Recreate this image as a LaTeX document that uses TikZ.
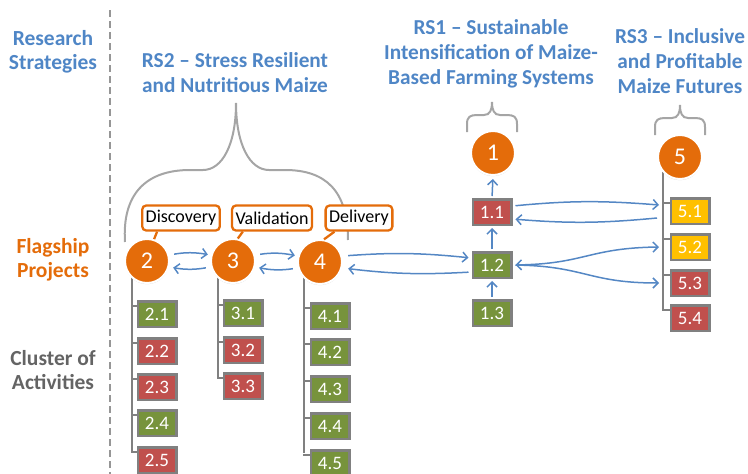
\documentclass[tikz,border=0pt]{standalone}
\usepackage{fontspec}
\setmainfont{Carlito}
\usetikzlibrary{arrows.meta,shadows}
\definecolor{rsblue}{RGB}{79,134,198}
\definecolor{arblue}{RGB}{84,135,196}
\definecolor{fporange}{RGB}{228,108,10}
\definecolor{cagray}{RGB}{100,100,100}
\definecolor{boxred}{RGB}{192,80,77}
\definecolor{boxgreen}{RGB}{119,147,60}
\definecolor{boxyellow}{RGB}{255,192,0}
\definecolor{stemgray}{RGB}{128,128,128}
\definecolor{bracegray}{RGB}{165,165,165}
\definecolor{divgray}{RGB}{150,150,150}
\begin{document}
\begin{tikzpicture}[x=1pt,y=-1pt,
  title/.style={text=rsblue, font=\fontsize{21.3}{25}\selectfont\bfseries, align=center},
  side/.style={font=\fontsize{21.5}{24.5}\selectfont\bfseries, align=center},
  cabox/.style={draw=stemgray, line width=2.5pt, minimum width=38.5pt, minimum height=25.5pt, inner sep=0pt, text=white, font=\fontsize{19}{19}\selectfont},
  gbox/.style={cabox, fill=boxgreen},
  rbox/.style={cabox, fill=boxred},
  ybox/.style={cabox, fill=boxyellow},
  fpcircle/.style={circle, fill=fporange, draw=white, line width=2pt, minimum size=44pt, inner sep=0pt, text=white, font=\fontsize{24}{24}\selectfont, drop shadow={shadow xshift=0pt, shadow yshift=-1.2pt, opacity=0.3}},
  phase/.style={draw=fporange, line width=2.3pt, rounded corners=4pt, fill=white, text=black, font=\fontsize{18}{18}\selectfont, minimum height=25pt, inner xsep=3.5pt, inner ysep=2pt},
  tail/.style={draw=fporange, line width=2.3pt},
  stem/.style={draw=stemgray, line width=2.8pt},
  tick/.style={draw=stemgray, line width=1.6pt},
  brace/.style={draw=bracegray, line width=2pt},
  barrow/.style={draw=arblue, line width=1.5pt, -{Straight Barb[length=5pt,width=10pt]}},
  divider/.style={draw=divgray, line width=1.2pt, dash pattern=on 7pt off 4pt}
]
\useasboundingbox (0,0) rectangle (748,474);

% divider
\draw[divider] (110,10) -- (110,474);

% side labels
\node[side, text=rsblue] (lrs) at (53,52) {Research\\Strategies};
\node[side, text=fporange] (lfp) at (53,260) {Flagship\\Projects};
\node[side, text=cagray] (lca) at (53,370) {Cluster of\\Activities};

% titles
\node[title] (t2) at (235,73) {RS2 – Stress Resilient\\and Nutritious Maize};
\node[title] (t1) at (491,54) {RS1 – Sustainable\\Intensification of Maize-\\Based Farming Systems};
\node[title] (t3) at (680,61) {RS3 – Inclusive\\and Profitable\\Maize Futures};

% braces
\draw[brace] (125,242) .. controls (122,195) and (145,170) .. (190,170) -- (203,170)
  .. controls (222,170) and (236,145) .. (236,103)
  .. controls (236,145) and (250,170) .. (269,170) -- (285,170)
  .. controls (325,170) and (348,190) .. (348,240);
\draw[brace] (467,132) -- (467,124) .. controls (467,117) and (470,115) .. (477,115) -- (484,115)
  .. controls (490,115) and (492,110) .. (492,102)
  .. controls (492,110) and (494,115) .. (500,115) -- (507,115)
  .. controls (514,115) and (517,117) .. (517,124) -- (517,132);
\begin{scope}[shift={(188,3)}]
\draw[brace] (467,132) -- (467,124) .. controls (467,117) and (470,115) .. (477,115) -- (484,115)
  .. controls (490,115) and (492,110) .. (492,102)
  .. controls (492,110) and (494,115) .. (500,115) -- (507,115)
  .. controls (514,115) and (517,117) .. (517,124) -- (517,132);
\end{scope}

% stems
\draw[stem] (132,268) -- (132,452);
\draw[stem] (218,268) -- (218,378);
\draw[stem] (304,270) -- (304,453);
\draw[stem] (663,172) -- (663,311);

% cluster boxes
\node[gbox] (b21) at (157,314) {2.1};
\node[rbox] (b22) at (157,351) {2.2};
\node[rbox] (b23) at (157,387) {2.3};
\node[gbox] (b24) at (157,423) {2.4};
\node[rbox] (b25) at (157,460) {2.5};
\node[gbox] (b31) at (243,313) {3.1};
\node[rbox] (b32) at (243,350) {3.2};
\node[rbox] (b33) at (243,386) {3.3};
\node[gbox] (b41) at (330,316) {4.1};
\node[gbox] (b42) at (330,352) {4.2};
\node[gbox] (b43) at (330,389) {4.3};
\node[gbox] (b44) at (330,426) {4.4};
\node[gbox] (b45) at (330,463) {4.5};
\node[rbox] (b11) at (492,212) {1.1};
\node[gbox] (b12) at (492,265) {1.2};
\node[gbox] (b13) at (492,313) {1.3};
\node[ybox] (b51) at (690,211) {5.1};
\node[ybox] (b52) at (690,247) {5.2};
\node[rbox] (b53) at (690,283) {5.3};
\node[rbox] (b54) at (690,318) {5.4};

% ticks
\foreach \b in {b21,b22,b23,b24,b25}{\draw[tick] ([yshift=8pt]\b.west) -- ++(-6,0);}
\foreach \b in {b31,b32,b33}{\draw[tick] ([yshift=8pt]\b.west) -- ++(-6,0);}
\foreach \b in {b41,b42,b43,b44,b45}{\draw[tick] ([yshift=8pt]\b.west) -- ++(-7,0);}
\foreach \b in {b51,b52,b53,b54}{\draw[tick] ([yshift=8pt]\b.west) -- ++(-8,0);}

% phase labels
\node[phase] (disc) at (181,218) {Discovery};
\node[phase] (vali) at (272,218) {Validation};
\node[phase] (deli) at (359,218) {Delivery};

% circles
\node[fpcircle] (c2) at (147,261) {2};
\node[fpcircle] (c3) at (233,261) {3};
\node[fpcircle] (c4) at (320,262) {4};
\node[fpcircle] (c1) at (493,153) {1};
\node[fpcircle] (c5) at (680,157) {5};

% tails
\draw[tail] ([xshift=16pt]disc.south west) -- (c2.72);
\draw[tail] ([xshift=12pt]vali.south west) -- (c3.78);
\draw[tail] ([xshift=10pt]deli.south west) -- (c4.80);

% stem target points
\coordinate (s51a) at (659,205);
\coordinate (s51b) at (657,218);
\coordinate (s52) at (659,247);
\coordinate (s53) at (659,283);

% arrows between circles
\draw[barrow, shorten <=5pt, shorten >=3pt] (c2.15) to[bend left=10] (c3.165);
\draw[barrow, shorten <=5pt, shorten >=4pt] (c3.195) to[bend left=10] (c2.345);
\draw[barrow, shorten <=5pt, shorten >=3pt] (c3.15) to[bend left=10] (c4.165);
\draw[barrow, shorten <=5pt, shorten >=4pt] (c4.195) to[bend left=10] (c3.345);

% 4 <-> 1.2
\draw[barrow, shorten <=6pt, shorten >=3pt] (c4.15) to[bend left=5] ([yshift=7pt]b12.west);
\draw[barrow, shorten <=3pt, shorten >=6pt] ([yshift=-7pt]b12.west) to[bend left=5] (c4.345);

% 1.1 <-> 5
\draw[barrow, shorten <=3pt] ([yshift=6pt]b11.east) to[bend left=5] (s51a);
\draw[barrow, shorten >=3pt] (s51b) to[bend left=5] ([yshift=-7pt]b11.east);

% 1.2 <-> 5.2, 5.3
\draw[barrow, {Straight Barb[length=5pt,width=10pt]}-{Straight Barb[length=5pt,width=10pt]}, shorten <=3pt] (b12.east) .. controls (585,264) and (588,248) .. (s52);
\draw[barrow, shorten <=3pt] (b12.east) .. controls (585,266) and (588,283) .. (s53);

% vertical arrows
\draw[barrow, shorten <=2pt, shorten >=2pt] (b13.north) -- (b12.south);
\draw[barrow, shorten <=2pt, shorten >=2pt] (b12.north) -- (b11.south);
\draw[barrow, shorten <=2pt, shorten >=3pt] (b11.north) -- (c1.south);
\end{tikzpicture}
\end{document}
